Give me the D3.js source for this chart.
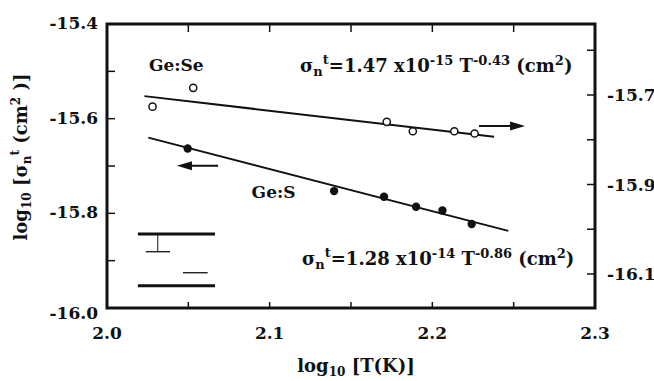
<!DOCTYPE html>
<html>
<head>
<meta charset="utf-8">
<script src="https://cdn.jsdelivr.net/npm/d3@7"></script>
<style>
  body { margin: 0; background: #fff; }
  svg text { font-family: "DejaVu Serif", "Liberation Serif", serif; font-weight: bold; fill: #111; }
</style>
</head>
<body>
<svg width="654" height="381"></svg>
<script>
// Ge:Se, open circles, read on the right axis
var seX = [2.028, 2.053, 2.172, 2.188, 2.2135, 2.226];
var seY = [-15.726, -15.684, -15.760, -15.781, -15.781, -15.786];
// Ge:S, filled circles, read on the left axis
var sX = [2.0496, 2.1396, 2.1703, 2.19, 2.2062, 2.2242];
var sY = [-15.663, -15.753, -15.765, -15.786, -15.794, -15.8225];
// fitted lines (end points)
var seFitX = [2.023, 2.238];
var seFitY = [-15.7025, -15.7935];
var sFitX = [2.0254, 2.2467];
var sFitY = [-15.640, -15.837];

var xTicks = [2.0, 2.05, 2.1, 2.15, 2.2, 2.25, 2.3];
var xLabels = [2.0, 2.1, 2.2, 2.3];
var yLeftTicks = [-15.4, -15.5, -15.6, -15.7, -15.8, -15.9, -16.0];
var yLeftLabels = [-15.4, -15.6, -15.8, -16.0];
var yRightTicks = [-15.6, -15.7, -15.8, -15.9, -16.0, -16.1];
var yRightLabels = [-15.7, -15.9, -16.1];

var svg = d3.select('svg');

var x = d3.scaleLinear().domain([2.0, 2.3]).range([107, 595]);
var yL = d3.scaleLinear().domain([-16.0, -15.4]).range([308, 24]);
var yR = d3.scaleLinear().domain([-16.176, -15.5413]).range([308, 24]);

// ticks (inward)
svg.selectAll('.tb').data(xTicks).enter().append('line')
    .attr('x1', d => x(d)).attr('x2', d => x(d))
    .attr('y1', 308).attr('y2', 302)
    .attr('stroke', '#111').attr('stroke-width', 1.5);
svg.selectAll('.tt').data(xTicks).enter().append('line')
    .attr('x1', d => x(d)).attr('x2', d => x(d))
    .attr('y1', 24).attr('y2', 32)
    .attr('stroke', '#111').attr('stroke-width', 1.5);
svg.selectAll('.tl').data(yLeftTicks).enter().append('line')
    .attr('x1', 107).attr('x2', 115)
    .attr('y1', d => yL(d)).attr('y2', d => yL(d))
    .attr('stroke', '#111').attr('stroke-width', 1.5);
svg.selectAll('.tr').data(yRightTicks).enter().append('line')
    .attr('x1', 595).attr('x2', 587)
    .attr('y1', d => yR(d)).attr('y2', d => yR(d))
    .attr('stroke', '#111').attr('stroke-width', 1.5);

// frame
svg.append('rect')
    .attr('x', 107).attr('y', 24).attr('width', 488).attr('height', 284)
    .attr('fill', 'none').attr('stroke', '#111').attr('stroke-width', 3);

// tick labels
svg.selectAll('.xl').data(xLabels).enter().append('text')
    .attr('x', d => x(d)).attr('y', 339)
    .attr('text-anchor', 'middle').style('font-size', '17px')
    .text(d => d.toFixed(1));
svg.selectAll('.yll').data(yLeftLabels).enter().append('text')
    .attr('x', 98).attr('y', d => yL(d) + (d == -16.0 ? 11 : 5))
    .attr('text-anchor', 'end').style('font-size', '17px')
    .text(d => d.toFixed(1));
svg.selectAll('.yrl').data(yRightLabels).enter().append('text')
    .attr('x', 607).attr('y', d => yR(d) + 6)
    .style('font-size', '17px')
    .text(d => d.toFixed(1));

// fit lines
var line = d3.line();
svg.append('path')
    .attr('d', line(seFitX.map((d, i) => [x(d), yR(seFitY[i])])))
    .attr('stroke', '#111').attr('stroke-width', 2).attr('fill', 'none');
svg.append('path')
    .attr('d', line(sFitX.map((d, i) => [x(d), yL(sFitY[i])])))
    .attr('stroke', '#111').attr('stroke-width', 2).attr('fill', 'none');

// points
svg.selectAll('.se').data(seX).enter().append('circle')
    .attr('cx', d => x(d)).attr('cy', (d, i) => yR(seY[i])).attr('r', 3.6)
    .attr('fill', '#fff').attr('stroke', '#111').attr('stroke-width', 1.5);
svg.selectAll('.s').data(sX).enter().append('circle')
    .attr('cx', d => x(d)).attr('cy', (d, i) => yL(sY[i])).attr('r', 4.2)
    .attr('fill', '#111');

// arrows
function arrow(x1, x2, yy) {
    var dir = x2 > x1 ? 1 : -1;
    svg.append('line').attr('x1', x1).attr('x2', x2 - dir * 10)
        .attr('y1', yy).attr('y2', yy)
        .attr('stroke', '#111').attr('stroke-width', 2);
    svg.append('path')
        .attr('d', 'M' + x2 + ',' + yy + 'L' + (x2 - dir * 15) + ',' + (yy - 4.5) +
              'L' + (x2 - dir * 15) + ',' + (yy + 4.5) + 'Z')
        .attr('fill', '#111');
}
arrow(x(2.0683), x(2.043), yL(-15.6994));
arrow(x(2.2287), x(2.257), yR(-15.769));

// inset bars
var thickBarsX = [2.019, 2.0664];
var thickBarsY = [-15.8437, -15.9529];
thickBarsY.forEach(function(v) {
    svg.append('line').attr('x1', x(thickBarsX[0])).attr('x2', x(thickBarsX[1]))
        .attr('y1', yL(v)).attr('y2', yL(v))
        .attr('stroke', '#111').attr('stroke-width', 3);
});
svg.append('line').attr('x1', x(2.0312)).attr('x2', x(2.0312))
    .attr('y1', yL(-15.8437)).attr('y2', yL(-15.8811))
    .attr('stroke', '#111').attr('stroke-width', 1);
svg.append('line').attr('x1', x(2.0238)).attr('x2', x(2.0387))
    .attr('y1', yL(-15.8811)).attr('y2', yL(-15.8811))
    .attr('stroke', '#111').attr('stroke-width', 1.3);
svg.append('line').attr('x1', x(2.0467)).attr('x2', x(2.0619))
    .attr('y1', yL(-15.9255)).attr('y2', yL(-15.9255))
    .attr('stroke', '#111').attr('stroke-width', 1.3);

// labels
svg.append('text').attr('x', x(2.0258)).attr('y', yL(-15.4993))
    .style('font-size', '17px').text('Ge:Se');
svg.append('text').attr('x', x(2.0889)).attr('y', yL(-15.7676))
    .style('font-size', '17px').text('Ge:S');

function equation(px, py, coef, exp, pow) {
    var t = svg.append('text').attr('x', px).attr('y', py).style('font-size', '18px');
    t.append('tspan').text('σ');
    t.append('tspan').attr('dy', 4).style('font-size', '13px').text('n');
    t.append('tspan').attr('dy', -12).style('font-size', '13px').text('t');
    t.append('tspan').attr('dy', 8).text('=' + coef + ' x10');
    t.append('tspan').attr('dy', -7).style('font-size', '13px').text(exp);
    t.append('tspan').attr('dy', 7).text(' T');
    t.append('tspan').attr('dy', -7).style('font-size', '13px').text(pow);
    t.append('tspan').attr('dy', 7).text(' (cm');
    t.append('tspan').attr('dy', -7).style('font-size', '13px').text('2');
    t.append('tspan').attr('dy', 7).text(')');
}
equation(x(2.1187), yL(-15.5014), '1.47', '-15', '-0.43');
equation(x(2.1199), yL(-15.9092), '1.28', '-14', '-0.86');

// axis titles
var xt = svg.append('text').attr('x', 356).attr('y', 372)
    .attr('text-anchor', 'middle').style('font-size', '18px');
xt.append('tspan').text('log');
xt.append('tspan').attr('dy', 4).style('font-size', '12px').text('10');
xt.append('tspan').attr('dy', -4).text(' [T(K)]');

var yt = svg.append('text')
    .attr('transform', 'translate(27,157) rotate(-90)')
    .attr('text-anchor', 'middle').style('font-size', '18px');
yt.append('tspan').text('log');
yt.append('tspan').attr('dy', 4).style('font-size', '12px').text('10');
yt.append('tspan').attr('dy', -4).text(' [σ');
yt.append('tspan').attr('dy', 4).style('font-size', '12px').text('n');
yt.append('tspan').attr('dy', -12).style('font-size', '12px').text('t');
yt.append('tspan').attr('dy', 8).text(' (cm');
yt.append('tspan').attr('dy', -7).style('font-size', '12px').text('2');
yt.append('tspan').attr('dy', 7).text(' )]');
</script>
</body>
</html>
